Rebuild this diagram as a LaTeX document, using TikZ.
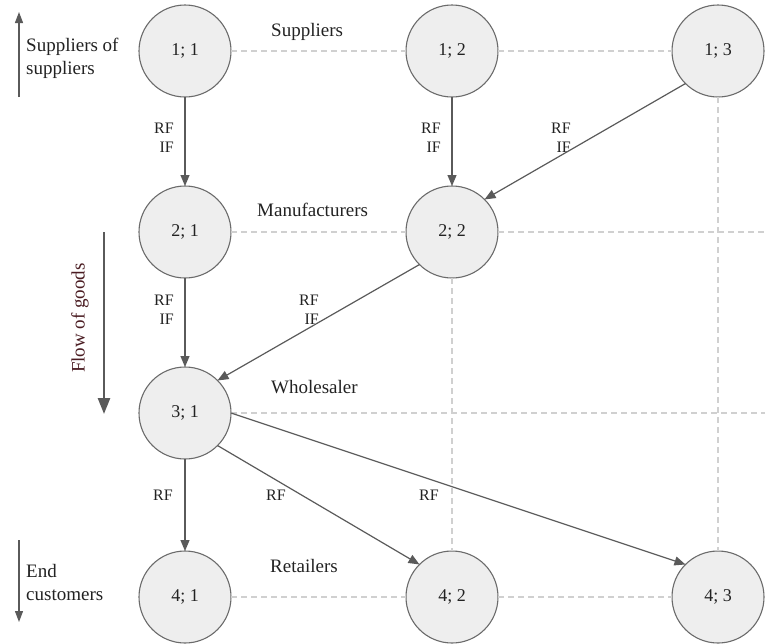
\documentclass[tikz,border=0pt]{standalone}
\usepackage{fontspec}
\setmainfont{Liberation Serif}
\usetikzlibrary{arrows.meta}

\definecolor{nodefill}{HTML}{EEEEEE}
\definecolor{nodeline}{HTML}{6B6B6B}
\definecolor{edgecol}{HTML}{5A5A5A}
\definecolor{gridcol}{HTML}{D0D0D0}
\definecolor{textcol}{HTML}{222222}
\definecolor{flowcol}{HTML}{4A1C22}

\tikzset{
  member/.style={circle, draw=nodeline, fill=nodefill, line width=1.1pt,
    minimum size=92pt, inner sep=0pt, outer sep=0pt,
    font=\fontsize{18}{20}\selectfont, text=textcol},
  gridline/.style={draw=gridcol, line width=1.1pt, dash pattern=on 6pt off 4pt},
  link/.style={draw=edgecol, line width=1.2pt,
    -{Triangle[length=11pt,width=9pt]}},
  flowlbl/.style={font=\fontsize{16}{19}\selectfont, text=textcol,
    align=right, inner sep=0pt},
  tierlbl/.style={font=\fontsize{19}{22}\selectfont, text=textcol,
    inner sep=0pt, anchor=base west},
  sidelbl/.style={font=\fontsize{19}{23}\selectfont, text=textcol,
    align=left, inner sep=0pt, anchor=west},
  sidearrow/.style={draw=edgecol, line width=1.2pt,
    -{Triangle[length=11pt,width=8pt]}}
}

\begin{document}
\begin{tikzpicture}[x=1pt,y=-1pt]
\useasboundingbox (0,0) rectangle (765,643);

% supply chain members
\node[member] (n11) at (185,51)  {1; 1};
\node[member] (n12) at (452,51)  {1; 2};
\node[member] (n13) at (718,51)  {1; 3};
\node[member] (n21) at (185,232) {2; 1};
\node[member] (n22) at (452,232) {2; 2};
\node[member] (n31) at (185,413) {3; 1};
\node[member] (n41) at (185,597) {4; 1};
\node[member] (n42) at (452,597) {4; 2};
\node[member] (n43) at (718,597) {4; 3};

% right-hand ends of the open grid lines
\coordinate (r2) at (765,232);
\coordinate (r3) at (765,413);

% dashed grid
\draw[gridline] (n11.east) -- (n12.west);
\draw[gridline] (n12.east) -- (n13.west);
\draw[gridline] (n21.east) -- (n22.west);
\draw[gridline] (n22.east) -- (r2);
\draw[gridline] (n31.east) -- (r3);
\draw[gridline] (n41.east) -- (n42.west);
\draw[gridline] (n42.east) -- (n43.west);
\draw[gridline] (n22.south) -- (n42.north);
\draw[gridline] (n13.south) -- (n43.north);

% flows between members
\draw[link] (n11.south) -- (n21.north);
\draw[link] (n12.south) -- (n22.north);
\draw[link] (n13.south west) -- (n22.north east);
\draw[link] (n21.south) -- (n31.north);
\draw[link] (n22.south west) -- (n31.north east);
\draw[link] (n31.south) -- (n41.north);
\draw[link] (n31.south east) -- (n42.north west);
\draw[link] (n31.east) -- (n43.north west);

% flow labels
\node[flowlbl] (l1) at (164,137.5) {RF\\IF};
\node[flowlbl] (l2) at (431,137.5) {RF\\IF};
\node[flowlbl] (l3) at (561,137.5) {RF\\IF};
\node[flowlbl] (l4) at (164,310)   {RF\\IF};
\node[flowlbl] (l5) at (309,310)   {RF\\IF};
\node[flowlbl] (l6) at (163,495)   {RF};
\node[flowlbl] (l7) at (276,495)   {RF};
\node[flowlbl] (l8) at (429,495)   {RF};

% tier names
\node[tierlbl] (t1) at (271,36)  {Suppliers};
\node[tierlbl] (t2) at (257,216) {Manufacturers};
\node[tierlbl] (t3) at (271,393) {Wholesaler};
\node[tierlbl] (t4) at (270,572) {Retailers};

% side annotations
\coordinate (ua) at (19,97);
\coordinate (ub) at (19,12);
\draw[sidearrow] (ua) -- (ub);
\node[sidelbl] (s1) at (26,58) {Suppliers of\\suppliers};

\coordinate (da) at (19,540);
\coordinate (db) at (19,622);
\draw[sidearrow] (da) -- (db);
\node[sidelbl] (s2) at (26,582) {End\\customers};

\coordinate (fa) at (104,232);
\coordinate (fb) at (104,414);
\draw[draw=edgecol, line width=2.6pt, -{Triangle[length=16pt,width=12pt]}] (fa) -- (fb);
\node[font=\fontsize{19}{22}\selectfont, text=flowcol, rotate=90, inner sep=0pt]
  (fl) at (80,318) {Flow of goods};
\end{tikzpicture}
\end{document}
